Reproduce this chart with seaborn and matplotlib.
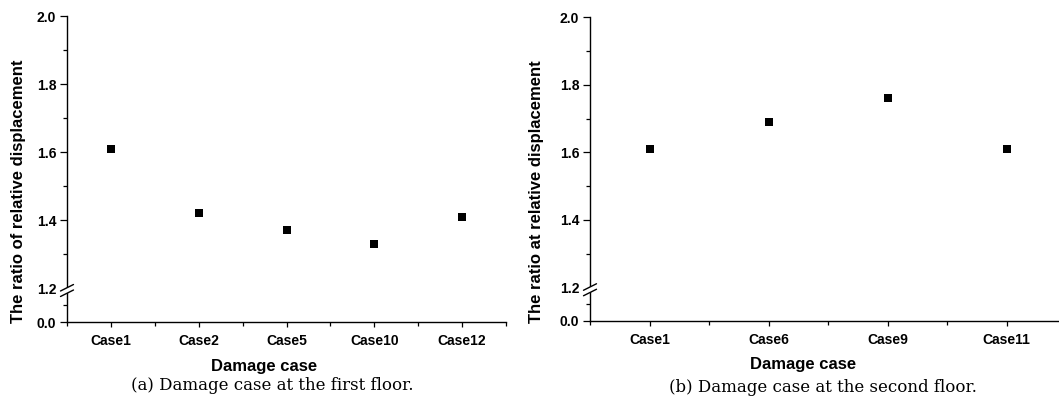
import numpy as np
import pandas as pd
import matplotlib
matplotlib.use("Agg")
import matplotlib.pyplot as plt
from matplotlib.lines import Line2D
from matplotlib.patches import Polygon
import matplotlib.transforms as mtransforms
import seaborn as sns

# --- data ---
cases_first = ["Case1", "Case2", "Case5", "Case10", "Case12"]
ratio_first = [1.61, 1.42, 1.37, 1.33, 1.41]

cases_second = ["Case1", "Case6", "Case9", "Case11"]
ratio_second = [1.61, 1.69, 1.76, 1.61]

ylabel_first = "The ratio of relative displacement"
ylabel_second = "The ratio at relative displacement"
xlabel = "Damage case"
caption_first = "(a) Damage case at the first floor."
caption_second = "(b) Damage case at the second floor."

major_yticks = [0.0, 1.2, 1.4, 1.6, 1.8, 2.0]
minor_yticks = [0.6, 1.3, 1.5, 1.7, 1.9]

sns.set_style("ticks")
plt.rcParams["font.family"] = ["Liberation Sans", "DejaVu Sans"]
for key in ["text.color", "axes.labelcolor", "xtick.color", "ytick.color", "axes.edgecolor"]:
    plt.rcParams[key] = "black"

W, H = 1059, 400
fig = plt.figure(figsize=(W / 100, H / 100), dpi=100)


# broken y axis: 0..1.2 squeezed into 0.1 units, 1.2..2.0 linear
def fwd(y):
    y = np.asarray(y, dtype=float)
    return np.where(y >= 1.2, y - 1.1, y / 12.0)


def inv(t):
    t = np.asarray(t, dtype=float)
    return np.where(t >= 0.1, t + 1.1, t * 12.0)


def px_rect(x0, y_top, x1, y_bot):
    return [x0 / W, 1 - y_bot / H, (x1 - x0) / W, (y_bot - y_top) / H]


def draw_panel(rect, cases, values, ylab, ylab_pos, xlab_pos, cap, cap_pos):
    ax = fig.add_axes(rect)
    df = pd.DataFrame({"case": cases, "ratio": values})
    sns.stripplot(data=df, x="case", y="ratio", order=cases, jitter=False,
                  marker="s", size=5.2, color="black", linewidth=0, ax=ax)
    ax.set_yscale("function", functions=(fwd, inv))
    ax.set_ylim(0, 2.0)
    ax.set_xlim(-0.5, len(cases) - 0.5)
    ax.set_yticks(major_yticks)
    ax.set_yticklabels([f"{v:.1f}" for v in major_yticks])
    ax.set_yticks(minor_yticks, minor=True)
    ax.set_xticks(np.arange(len(cases) + 1) - 0.5, minor=True)
    ax.set_xlabel("")
    ax.set_ylabel("")
    sns.despine(ax=ax)
    for s in ["left", "bottom"]:
        ax.spines[s].set_linewidth(1.0)
    ax.tick_params(axis="y", which="major", length=4.7, width=0.9, labelsize=10, pad=3)
    ax.tick_params(axis="y", which="minor", length=2.6, width=0.9)
    ax.tick_params(axis="x", which="major", length=3.8, width=0.9, labelsize=10, pad=4.5)
    ax.tick_params(axis="x", which="minor", length=2.8, width=0.9)
    for lab in ax.get_xticklabels() + ax.get_yticklabels():
        lab.set_fontweight("bold")
    # hide the 1.2 tick, the break marks replace it
    ax.yaxis.get_major_ticks()[1].tick1line.set_visible(False)

    # break marks on the y axis near 1.2
    trans = mtransforms.blended_transform_factory(ax.transAxes, ax.transData)
    bx, by = trans.transform((0, 1.2))
    l1 = [(-6.5, -3.0), (6.5, 3.5)]
    l2 = [(-6.5, -8.5), (6.5, -2.0)]
    to_fig = lambda pts: [((bx + dx) / W, (by + dy) / H) for dx, dy in pts]
    poly = Polygon(to_fig(l1 + l2[::-1]), closed=True, facecolor="white",
                   edgecolor="none", transform=fig.transFigure, zorder=10)
    fig.add_artist(poly)
    for seg in (l1, l2):
        pts = to_fig(seg)
        fig.add_artist(Line2D([p[0] for p in pts], [p[1] for p in pts],
                              color="black", lw=1.0, transform=fig.transFigure,
                              zorder=11))

    fig.text(ylab_pos[0] / W, 1 - ylab_pos[1] / H, ylab, rotation=90,
             ha="center", va="center", fontsize=12, fontweight="bold")
    fig.text(xlab_pos[0] / W, 1 - xlab_pos[1] / H, xlabel,
             ha="center", va="center", fontsize=12, fontweight="bold")
    fig.text(cap_pos[0] / W, 1 - cap_pos[1] / H, cap, ha="center", va="center",
             fontsize=12, family=["DejaVu Serif"])
    return ax


draw_panel(px_rect(67, 16, 506, 322), cases_first, ratio_first,
           ylabel_first, (18.5, 191.5), (264, 366), caption_first, (272, 385))
draw_panel(px_rect(590, 17.3, 1066, 321), cases_second, ratio_second,
           ylabel_second, (536.5, 191.5), (803, 365), caption_second, (823, 388))

fig.savefig("out.png", dpi=100)
